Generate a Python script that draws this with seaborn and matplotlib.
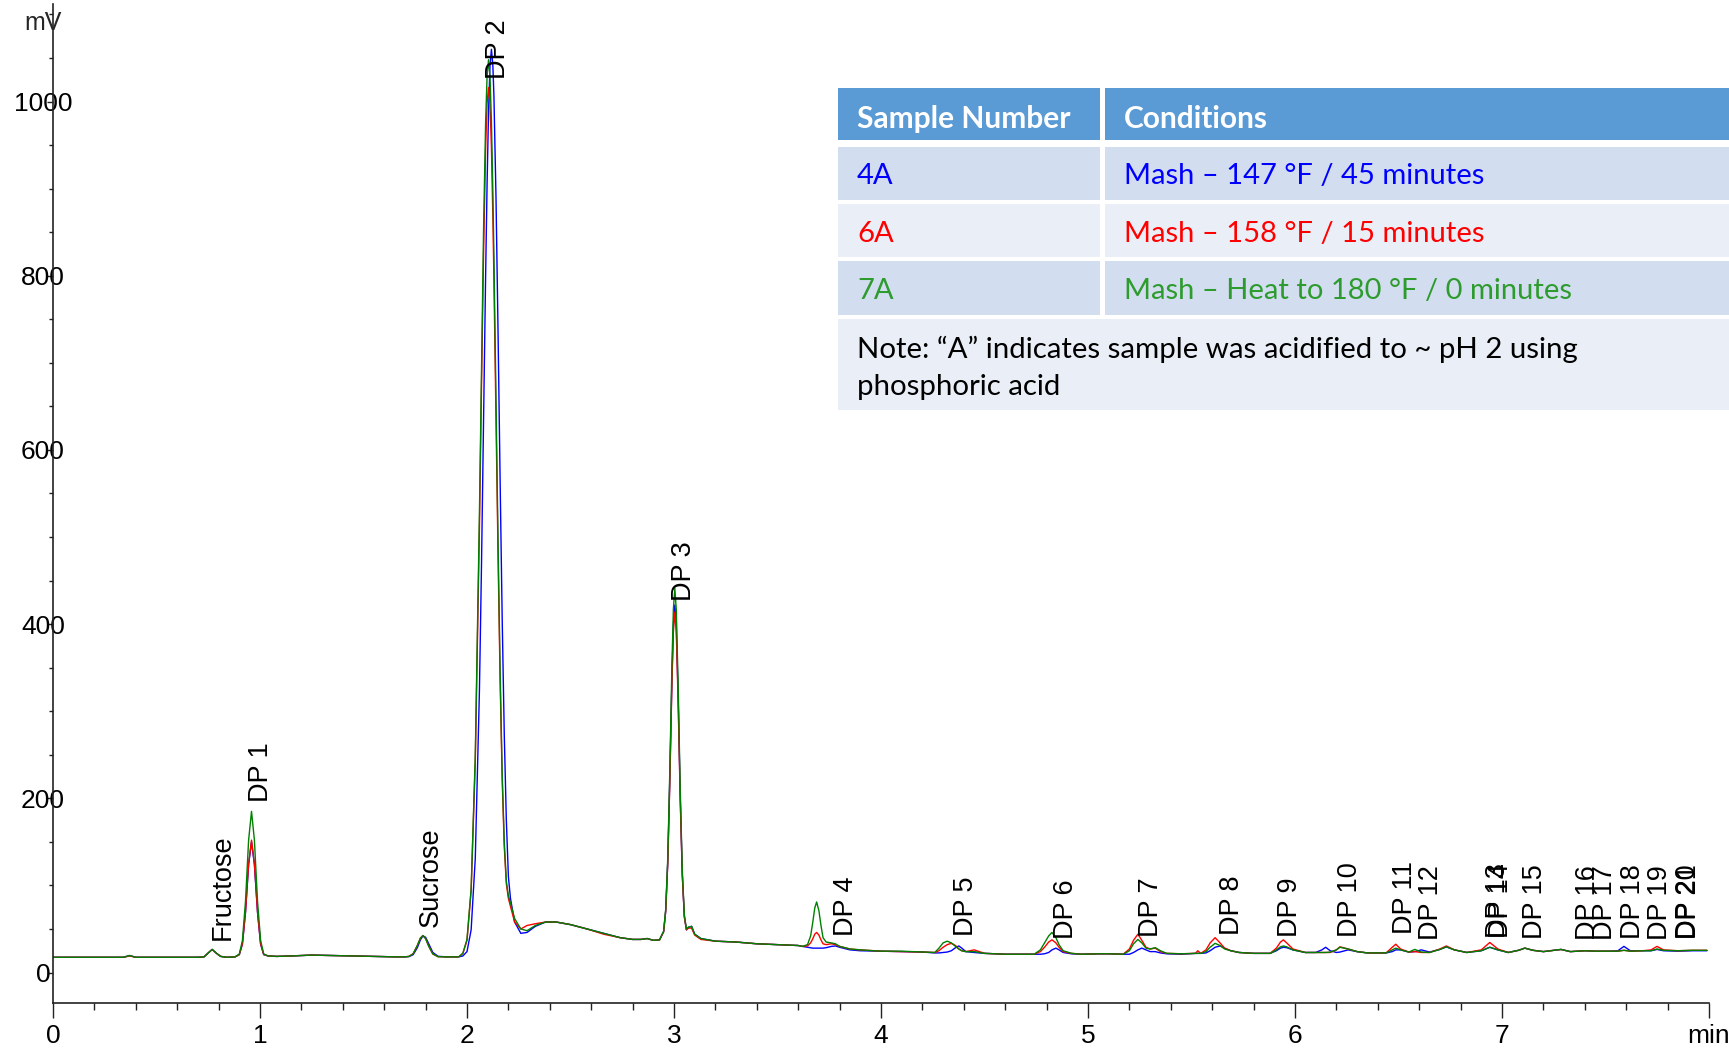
import matplotlib
matplotlib.use("Agg")
import matplotlib.pyplot as plt
import pandas as pd
import seaborn as sns
from matplotlib.patches import Rectangle
from matplotlib.ticker import MultipleLocator

# ---------------- data ----------------
time_min = [
    0.00, 0.20, 0.34, 0.37, 0.40, 0.55, 0.70,
    0.73, 0.75, 0.769, 0.79, 0.81, 0.84,
    0.88, 0.90, 0.915, 0.93, 0.945, 0.959, 0.973, 0.988, 1.003, 1.018, 1.04,
    1.08, 1.15, 1.25, 1.35, 1.45, 1.55, 1.65, 1.70,
    1.72, 1.74, 1.76, 1.775, 1.787, 1.80, 1.815, 1.835, 1.86, 1.90, 1.94,
    1.96, 1.98, 2.00, 2.02, 2.04, 2.06, 2.07, 2.08, 2.09, 2.097, 2.104, 2.111,
    2.118, 2.125, 2.13, 2.14, 2.15, 2.16, 2.17, 2.18, 2.19, 2.20,
    2.21, 2.23, 2.26, 2.29, 2.33, 2.38, 2.43, 2.50, 2.58, 2.66, 2.74, 2.80,
    2.84, 2.87, 2.90,
    2.93, 2.95, 2.96, 2.97, 2.98, 2.99, 2.997, 3.004, 3.011, 3.02, 3.03, 3.04,
    3.05, 3.06, 3.07, 3.085, 3.10, 3.13, 3.20, 3.30, 3.40, 3.50, 3.60,
    3.62, 3.645, 3.66, 3.67, 3.68, 3.689, 3.70, 3.71, 3.72, 3.735, 3.76, 3.78,
    3.80, 3.85, 3.90, 4.00, 4.10, 4.20,
    4.26, 4.28, 4.30, 4.32, 4.34, 4.36, 4.376, 4.39, 4.41, 4.45, 4.50, 4.60, 4.70,
    4.74, 4.77, 4.79, 4.81, 4.826, 4.845, 4.86, 4.88, 4.92, 4.97, 5.05, 5.10,
    5.17, 5.20, 5.22, 5.241, 5.26, 5.28, 5.30, 5.325, 5.35, 5.38, 5.45,
    5.52, 5.53, 5.545, 5.57, 5.59, 5.614, 5.638, 5.66, 5.69, 5.73, 5.80,
    5.88, 5.91, 5.93, 5.944, 5.96, 5.99, 6.05,
    6.10, 6.13, 6.148, 6.17, 6.20, 6.217, 6.257, 6.30, 6.35,
    6.44, 6.47, 6.487, 6.51, 6.55, 6.579, 6.61, 6.65,
    6.70, 6.731, 6.77, 6.83, 6.90, 6.941, 6.98, 7.03,
    7.08, 7.11, 7.15, 7.20, 7.285, 7.33, 7.40, 7.45, 7.52,
    7.56, 7.589, 7.62, 7.68, 7.72, 7.749, 7.78, 7.85, 7.92, 7.99,
]

mv_4a = [
    17.5, 17.5, 17.5, 19.5, 17.5, 17.5, 17.5,
    18.0, 22.5, 26.5, 22.0, 18.5, 17.5,
    18.0, 20.5, 32.5, 69.0, 124.0, 150.0, 124.0, 69.0, 32.5, 20.5, 19.0,
    18.5, 19.0, 20.0, 19.5, 19.0, 18.5, 18.0, 18.0,
    18.3, 20.5, 28.5, 37.5, 42.0, 40.5, 33.0, 23.0, 18.6, 18.0, 18.0,
    18.0, 19.0, 24.0, 49.0, 131.0, 323.0, 467.0, 633.0, 801.0, 905.0, 988.0, 1041.0,
    1060.0, 1041.0, 1007.0, 891.0, 735.0, 565.0, 406.0, 274.0, 175.0, 110.0,
    85.0, 58.0, 45.0, 46.0, 53.0, 58.0, 58.0, 55.0, 50.0, 45.0, 40.0, 38.0,
    38.0, 39.0, 37.0,
    37.4, 47.0, 71.0, 128.0, 225.0, 338.0, 399.0, 422.0, 399.0, 317.0, 203.0, 113.0,
    64.0, 49.0, 52.0, 53.0, 44.0, 39.0, 36.0, 35.0, 33.0, 32.0, 31.0,
    30.0, 29.0, 28.5, 28.0, 28.0, 28.0, 28.0, 28.0, 28.0, 28.5, 30.0, 30.5,
    29.0, 26.0, 25.0, 24.5, 24.0, 23.5,
    22.5, 22.5, 23.0, 23.5, 25.0, 28.5, 30.5, 28.0, 24.0, 23.0, 22.0, 21.0, 21.0,
    21.0, 21.0, 21.5, 23.0, 26.0, 28.0, 26.0, 23.0, 21.5, 21.0, 21.5, 21.5,
    21.0, 21.0, 23.0, 26.0, 28.0, 26.0, 24.0, 24.0, 22.5, 21.5, 21.0,
    22.0, 22.0, 22.0, 22.5, 25.0, 29.0, 30.5, 28.0, 25.0, 23.0, 22.0,
    22.0, 25.0, 28.0, 29.0, 28.5, 26.0, 23.0,
    23.0, 26.0, 29.0, 25.0, 23.0, 23.5, 26.0, 24.0, 22.5,
    22.5, 24.0, 26.0, 26.0, 23.5, 24.0, 26.0, 23.5,
    26.5, 29.5, 26.0, 23.0, 25.0, 29.0, 26.0, 23.0,
    25.5, 28.0, 25.5, 24.0, 26.5, 24.0, 25.0, 24.5, 24.5,
    25.0, 30.0, 25.0, 25.0, 25.0, 26.5, 25.0, 24.5, 25.0, 25.0,
]

mv_6a = [
    17.5, 17.5, 17.5, 19.0, 17.5, 17.5, 17.5,
    18.0, 22.5, 26.5, 22.0, 18.5, 17.5,
    18.0, 20.6, 32.9, 70.0, 125.0, 152.0, 125.0, 70.0, 32.9, 20.6, 19.0,
    18.5, 19.0, 20.0, 19.5, 19.0, 18.5, 18.0, 18.0,
    18.5, 21.6, 31.0, 39.5, 42.4, 39.0, 30.3, 21.3, 18.2, 18.0, 18.0,
    18.0, 22.0, 37.0, 94.0, 242.0, 510.0, 673.0, 826.0, 947.0, 998.0, 1016.0, 998.0,
    947.0, 867.0, 797.0, 640.0, 479.0, 335.0, 222.0, 145.0, 102.0, 85.0,
    76.0, 58.0, 50.0, 54.0, 56.0, 58.0, 58.0, 55.0, 50.0, 44.0, 40.0, 38.0,
    38.0, 39.0, 37.0,
    37.4, 46.8, 70.6, 126.0, 221.0, 332.0, 391.0, 414.0, 391.0, 311.0, 199.0, 112.0,
    64.0, 49.0, 51.0, 51.0, 43.0, 38.0, 36.0, 35.0, 33.0, 32.0, 31.0,
    30.0, 30.5, 34.0, 38.5, 44.0, 46.0, 43.0, 37.5, 33.0, 32.0, 33.0, 32.0,
    30.0, 27.0, 26.0, 24.5, 24.0, 23.5,
    23.0, 25.0, 29.0, 32.0, 33.5, 31.0, 27.0, 25.0, 24.0, 26.0, 22.0, 21.0, 21.0,
    21.0, 24.0, 29.0, 35.0, 37.5, 34.0, 29.0, 24.0, 22.0, 21.0, 21.5, 21.5,
    21.0, 27.0, 37.0, 44.0, 37.0, 29.0, 27.0, 28.0, 24.0, 22.0, 21.5,
    22.0, 25.0, 22.0, 26.0, 34.0, 40.0, 34.0, 28.0, 25.0, 23.0, 22.0,
    22.0, 28.0, 35.0, 37.5, 34.0, 27.0, 23.0,
    23.0, 23.0, 23.0, 23.0, 26.0, 29.5, 27.0, 24.0, 22.5,
    22.5, 29.0, 32.5, 27.0, 23.5, 24.0, 23.0, 23.0,
    27.0, 30.5, 26.0, 23.0, 26.0, 34.5, 27.0, 23.0,
    25.5, 28.0, 25.5, 24.0, 26.5, 24.0, 25.0, 24.5, 24.5,
    24.5, 25.5, 24.5, 25.0, 26.0, 30.0, 26.0, 25.0, 25.5, 25.5,
]

mv_7a = [
    17.5, 17.5, 17.5, 19.5, 17.5, 17.5, 17.5,
    18.0, 22.5, 26.5, 22.0, 18.5, 17.5,
    18.0, 21.2, 36.6, 82.0, 152.0, 185.0, 152.0, 82.0, 36.6, 21.2, 19.0,
    18.5, 19.0, 20.0, 19.5, 19.0, 18.5, 18.0, 18.0,
    18.5, 21.6, 31.0, 39.5, 42.4, 39.0, 30.3, 21.3, 18.2, 18.0, 18.0,
    18.0, 22.0, 38.0, 96.0, 249.0, 526.0, 693.0, 853.0, 977.0, 1029.0, 1048.0, 1029.0,
    977.0, 895.0, 822.0, 660.0, 494.0, 346.0, 228.0, 150.0, 105.0, 88.0,
    80.0, 62.0, 50.0, 48.0, 54.0, 58.0, 58.0, 55.0, 50.0, 45.0, 40.0, 38.0,
    38.0, 39.0, 37.0,
    37.4, 47.5, 73.0, 132.0, 234.0, 353.0, 417.0, 441.0, 417.0, 330.0, 211.0, 117.0,
    66.0, 50.0, 52.0, 53.0, 44.0, 39.0, 36.0, 35.0, 33.0, 32.0, 31.0,
    30.0, 32.0, 42.0, 57.0, 74.0, 81.0, 71.0, 54.0, 40.0, 35.0, 34.0, 33.0,
    30.0, 27.0, 26.0, 24.5, 24.5, 23.5,
    23.0, 28.0, 34.0, 36.0, 34.0, 30.0, 27.0, 25.0, 24.0, 24.0, 22.0, 21.0, 21.0,
    21.0, 26.0, 34.0, 42.0, 46.0, 40.0, 32.0, 25.0, 22.0, 21.0, 21.5, 21.5,
    21.0, 25.0, 33.0, 38.0, 34.0, 28.0, 27.0, 28.5, 25.0, 22.0, 21.5,
    22.0, 22.0, 22.0, 24.0, 29.0, 33.5, 31.0, 27.0, 25.0, 23.0, 22.0,
    22.0, 26.0, 29.5, 30.5, 29.5, 26.0, 23.0,
    23.0, 23.0, 23.0, 23.5, 26.0, 29.0, 27.0, 24.0, 22.5,
    22.5, 26.0, 28.0, 26.0, 23.5, 26.5, 23.5, 23.0,
    26.5, 29.5, 26.0, 23.0, 25.0, 29.0, 26.0, 23.0,
    25.5, 28.0, 25.5, 24.0, 26.5, 24.0, 25.0, 24.5, 24.5,
    24.5, 25.5, 24.5, 25.0, 25.0, 27.0, 25.5, 25.0, 25.5, 25.5,
]

sample_names = ["4A", "6A", "7A"]
sample_line_colors = ["#0000FF", "#FF0000", "#008000"]

peak_labels = ["Fructose", "DP 1", "Sucrose", "DP 2", "DP 3", "DP 4", "DP 5",
               "DP 6", "DP 7", "DP 8", "DP 9", "DP 10", "DP 11", "DP 12",
               "DP 13", "DP 14", "DP 15", "DP 16", "DP 17", "DP 18", "DP 19",
               "DP 20", "DP 21"]
peak_label_time = [0.818, 1.004, 1.825, 2.149, 3.049, 3.829, 4.412,
                   4.894, 5.305, 5.694, 5.976, 6.265, 6.531, 6.659,
                   6.981, 6.997, 7.158, 7.415, 7.496, 7.632, 7.761,
                   7.900, 7.905]
peak_label_mv = [37.5, 195.5, 52.7, 1026.0, 427.0, 42.0, 42.0,
                 39.0, 41.0, 43.0, 41.0, 41.0, 44.0, 37.5,
                 40.0, 40.0, 38.5, 37.5, 37.5, 38.5, 37.5,
                 38.5, 38.5]

x_ticks = [0, 1, 2, 3, 4, 5, 6, 7, 8]
x_tick_labels = ["0", "1", "2", "3", "4", "5", "6", "7", "min"]
y_ticks = [0, 200, 400, 600, 800, 1000]
y_unit = "mV"

table_header = ["Sample Number", "Conditions"]
table_samples = ["4A", "6A", "7A"]
table_conditions = ["Mash \u2013 147 \u00b0F / 45 minutes",
                    "Mash \u2013 158 \u00b0F / 15 minutes",
                    "Mash \u2013 Heat to 180 \u00b0F / 0 minutes"]
table_text_colors = ["#0000FF", "#FF0000", "#2E9B2E"]
table_note = ["Note: \u201cA\u201d indicates sample was acidified to ~ pH 2 using",
              "phosphoric acid"]

# ---------------- figure ----------------
W, H = 1729, 1049
sns.set_theme(style="white")
plt.rcParams["font.family"] = ["Liberation Sans", "DejaVu Sans"]

fig = plt.figure(figsize=(W / 100, H / 100), dpi=100)
ax_left, ax_right, ax_top, ax_bottom = 53, 1709, 4, 1003
ax = fig.add_axes([ax_left / W, 1 - ax_bottom / H,
                   (ax_right - ax_left) / W, (ax_bottom - ax_top) / H])

df = pd.concat([
    pd.DataFrame({"time": time_min, "mV": vals, "sample": name})
    for name, vals in zip(sample_names, [mv_4a, mv_6a, mv_7a])
], ignore_index=True)

sns.lineplot(data=df, x="time", y="mV", hue="sample", hue_order=sample_names,
             palette=sample_line_colors, estimator=None, sort=False,
             linewidth=1.0, legend=False, ax=ax)

ax.set_xlim(0, 8)
ax.set_ylim(-35, 1112)
ax.set_xlabel("")
ax.set_ylabel("")
for s in ["top", "right"]:
    ax.spines[s].set_visible(False)
for s in ["left", "bottom"]:
    ax.spines[s].set_color("#222222")
    ax.spines[s].set_linewidth(1.2)

ax.set_xticks(x_ticks)
ax.set_xticklabels(x_tick_labels)
ax.set_yticks(y_ticks)
ax.set_yticklabels([str(v) for v in y_ticks])
ax.xaxis.set_minor_locator(MultipleLocator(0.2))
ax.yaxis.set_minor_locator(MultipleLocator(50))
ax.tick_params(axis="x", which="major", bottom=True, direction="out",
               length=10.8, width=1.0, color="#222222", pad=4,
               labelsize=19, labelcolor="black")
ax.tick_params(axis="x", which="minor", bottom=True, direction="out",
               length=5, width=1.0, color="#222222")
ax.tick_params(axis="y", which="major", left=True, direction="out",
               length=4.3, width=1.0, color="#222222", pad=2.9,
               labelsize=19, labelcolor="black")
ax.tick_params(axis="y", which="minor", left=True, direction="out",
               length=2.9, width=1.0, color="#222222")
for lab in ax.get_yticklabels():
    lab.set_horizontalalignment("center")
ax.grid(False)

for name, t, v in zip(peak_labels, peak_label_time, peak_label_mv):
    ax.text(t, v, name, rotation=90, ha="center", va="bottom",
            fontsize=19.5, color="black")

fig.text(43 / W, 1 - 23 / H, y_unit, ha="center", va="center", fontsize=18)


# ---------------- condition table ----------------
def fx(x):
    return x / W


def fy(y):
    return 1 - y / H


def rect(x0, y0, x1, y1, color):
    fig.add_artist(Rectangle((fx(x0), fy(y1)), fx(x1) - fx(x0), fy(y0) - fy(y1),
                             transform=fig.transFigure, facecolor=color,
                             edgecolor="none", zorder=5))


tab_l, col_div_l, col_div_r, tab_r = 838, 1100, 1105, 1729
header_c, dark_c, light_c = "#5B9BD5", "#D2DEEF", "#EAEFF7"
rows_y = [(147, 200), (204, 257), (261, 315)]
row_cols = [dark_c, light_c, dark_c]

rect(tab_l, 88, col_div_l, 140, header_c)
rect(col_div_r, 88, tab_r, 140, header_c)
for (y0, y1), c in zip(rows_y, row_cols):
    rect(tab_l, y0, col_div_l, y1, c)
    rect(col_div_r, y0, tab_r, y1, c)
rect(tab_l, 319, tab_r, 410, light_c)

tfont = ["Lato", "DejaVu Sans"]
tx1, tx2 = 857, 1124
fs_body, fs_head, fs_note = 21, 21.5, 21.2
dy = 3
fig.text(fx(tx1), fy(116 + dy), table_header[0], color="white", fontsize=fs_head,
         fontweight="bold", family=tfont, va="center", ha="left", zorder=6)
fig.text(fx(tx2), fy(116 + dy), table_header[1], color="white", fontsize=fs_head,
         fontweight="bold", family=tfont, va="center", ha="left", zorder=6)
for (y0, y1), s, cond, c in zip(rows_y, table_samples, table_conditions,
                                table_text_colors):
    yc = (y0 + y1) / 2 + dy
    fig.text(fx(tx1), fy(yc), s, color=c, fontsize=fs_body, family=tfont,
             va="center", ha="left", zorder=6)
    fig.text(fx(tx2), fy(yc), cond, color=c, fontsize=fs_body, family=tfont,
             va="center", ha="left", zorder=6)
for line, yc in zip(table_note, [347, 385]):
    fig.text(fx(tx1), fy(yc + 2), line, color="black", fontsize=fs_note,
             family=tfont, va="center", ha="left", zorder=6)

fig.savefig("out.png", dpi=100)
